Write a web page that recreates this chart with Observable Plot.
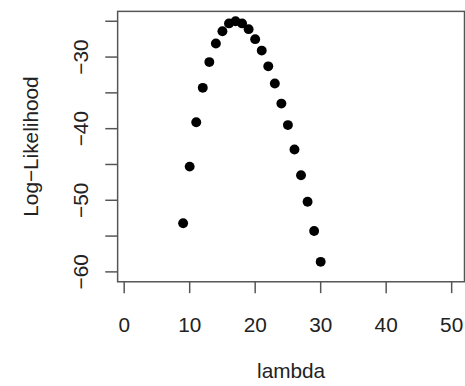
<!DOCTYPE html>
<html><head><meta charset="utf-8">
<script src="https://cdn.jsdelivr.net/npm/d3@7"></script>
<script src="https://cdn.jsdelivr.net/npm/@observablehq/plot@0.6"></script>
<style>html,body{margin:0;padding:0;background:#fff;overflow:hidden;width:465px;height:386px}</style>
</head><body><div id="chart"></div>
<script>
const lambda = [9,10,11,12,13,14,15,16,17,18,19,20,21,22,23,24,25,26,27,28,29,30];
const logLik = [-53.2,-45.3,-39.1,-34.3,-30.7,-28.1,-26.4,-25.3,-25.0,-25.3,-26.1,-27.5,-29.1,-31.3,-33.7,-36.5,-39.5,-42.9,-46.5,-50.2,-54.3,-58.6];
const xTicks = [0,10,20,30,40,50];
const yTicks = [-25,-30,-35,-40,-45,-50,-55,-60];
const yLabelTicks = [-30,-40,-50,-60];
const xTitle = ["lambda"];
const yTitle = ["Log\u2212Likelihood"];

const data = lambda.map((l, i) => ({lambda: l, ll: logLik[i]}));
const fmt = d => (d < 0 ? "\u2212" : "") + Math.abs(d);
const ink = "#222";
const axisInk = "#555";

const chart = Plot.plot({
  width: 470, height: 386,
  marginLeft: 118.4, marginRight: 1, marginTop: 11, marginBottom: 101.7,
  x: {domain: [-1, 51.96]},
  y: {domain: [-61.38, -23.62]},
  style: {fontFamily: "'Liberation Sans', Arial, Helvetica, sans-serif", fontSize: "21px", background: "#fff", color: ink},
  marks: [
    Plot.frame({stroke: axisInk, strokeWidth: 1.5}),
    Plot.axisX({ticks: xTicks, tickSize: 12, tickPadding: 24, fontSize: 21, stroke: axisInk, strokeWidth: 1.5, fill: ink, label: null, tickFormat: fmt}),
    Plot.axisY({ticks: yTicks, tickSize: 12, stroke: axisInk, strokeWidth: 1.5, label: null, tickFormat: () => ""}),
    Plot.axisY({ticks: yLabelTicks, tickSize: 0, tickPadding: 30.4, tickRotate: -90, fontSize: 21, fill: ink, label: null, tickFormat: fmt}),
    Plot.dot(data, {x: "lambda", y: "ll", r: 5, fill: "#000", stroke: "none"}),
    Plot.text(xTitle, {frameAnchor: "bottom", textAnchor: "middle", text: d => d, dy: 97.5, fontSize: 21, fill: ink}),
    Plot.text(yTitle, {frameAnchor: "left", textAnchor: "middle", text: d => d, rotate: -90, dx: -87, fontSize: 21, fill: ink})
  ]
});
document.getElementById("chart").appendChild(chart);
</script>
</body></html>
